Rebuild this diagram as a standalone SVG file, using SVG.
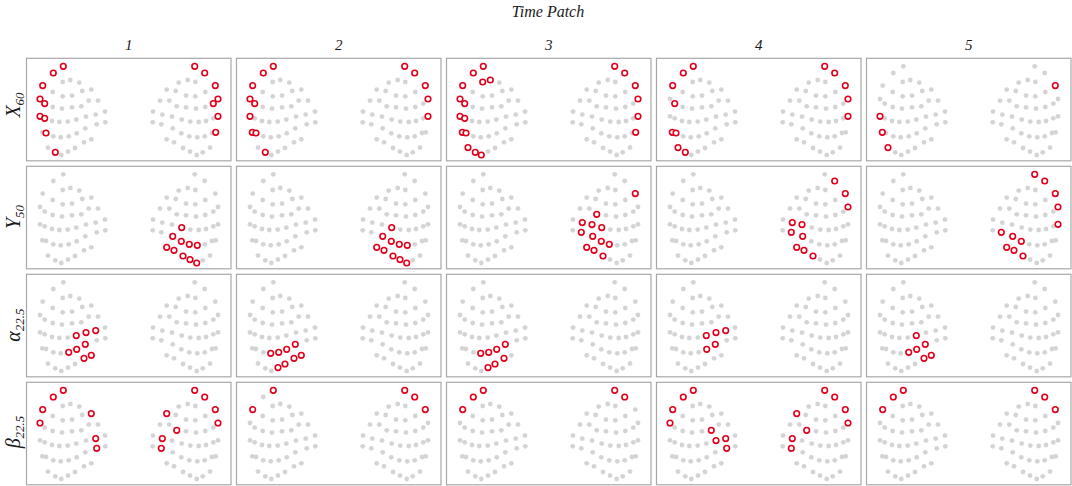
<svg xmlns="http://www.w3.org/2000/svg" xmlns:xlink="http://www.w3.org/1999/xlink" width="1072" height="486" viewBox="0 0 1072 486">
<style>
.t{font-family:"Liberation Serif","Times New Roman",serif;font-style:italic;fill:#1a1a1a}
.frame{fill:#fff;stroke:#a8a8a8;stroke-width:1.2}
.g circle{fill:#d4d4d4}
.r{fill:#fff;stroke:#e0001b;stroke-width:1.6}
</style>
<defs>
<g id="dots" class="g">
<circle cx="37.3" cy="10" r="2.4"/><circle cx="27.3" cy="16.7" r="2.4"/><circle cx="36.7" cy="25.7" r="2.4"/><circle cx="44.3" cy="23.7" r="2.4"/><circle cx="53.3" cy="26.3" r="2.4"/><circle cx="16.7" cy="29.3" r="2.4"/><circle cx="26.7" cy="35.7" r="2.4"/><circle cx="56.3" cy="34.7" r="2.4"/><circle cx="65.3" cy="33.3" r="2.4"/><circle cx="36.7" cy="40" r="2.4"/><circle cx="46" cy="39.3" r="2.4"/><circle cx="14" cy="42.7" r="2.4"/><circle cx="62.7" cy="44.3" r="2.4"/><circle cx="72" cy="44.3" r="2.4"/><circle cx="18.7" cy="47.3" r="2.4"/><circle cx="26.7" cy="50.7" r="2.4"/><circle cx="36" cy="52.3" r="2.4"/><circle cx="46" cy="51" r="2.4"/><circle cx="55.3" cy="50" r="2.4"/><circle cx="79" cy="55.3" r="2.4"/><circle cx="69.7" cy="58.3" r="2.4"/><circle cx="14" cy="60" r="2.4"/><circle cx="18.7" cy="62" r="2.4"/><circle cx="26" cy="64.7" r="2.4"/><circle cx="33.3" cy="65.7" r="2.4"/><circle cx="41.7" cy="65.3" r="2.4"/><circle cx="50.3" cy="63.3" r="2.4"/><circle cx="60" cy="60.3" r="2.4"/><circle cx="79.3" cy="66" r="2.4"/><circle cx="70.7" cy="68" r="2.4"/><circle cx="59.3" cy="72" r="2.4"/><circle cx="16.3" cy="76" r="2.4"/><circle cx="20" cy="76.7" r="2.4"/><circle cx="27.3" cy="80" r="2.4"/><circle cx="34.7" cy="81" r="2.4"/><circle cx="42.7" cy="80" r="2.4"/><circle cx="50.7" cy="77" r="2.4"/><circle cx="65.3" cy="83" r="2.4"/><circle cx="58" cy="86" r="2.4"/><circle cx="22" cy="91.3" r="2.4"/><circle cx="29.3" cy="96" r="2.4"/><circle cx="35.3" cy="98.7" r="2.4"/><circle cx="42" cy="95.3" r="2.4"/><circle cx="49" cy="91.7" r="2.4"/>
<circle cx="168.7" cy="10" r="2.4"/><circle cx="178.7" cy="16.7" r="2.4"/><circle cx="169.3" cy="25.7" r="2.4"/><circle cx="161.7" cy="23.7" r="2.4"/><circle cx="152.7" cy="26.3" r="2.4"/><circle cx="189.3" cy="29.3" r="2.4"/><circle cx="179.3" cy="35.7" r="2.4"/><circle cx="149.7" cy="34.7" r="2.4"/><circle cx="140.7" cy="33.3" r="2.4"/><circle cx="169.3" cy="40" r="2.4"/><circle cx="160" cy="39.3" r="2.4"/><circle cx="192" cy="42.7" r="2.4"/><circle cx="143.3" cy="44.3" r="2.4"/><circle cx="134" cy="44.3" r="2.4"/><circle cx="187.3" cy="47.3" r="2.4"/><circle cx="179.3" cy="50.7" r="2.4"/><circle cx="170" cy="52.3" r="2.4"/><circle cx="160" cy="51" r="2.4"/><circle cx="150.7" cy="50" r="2.4"/><circle cx="127" cy="55.3" r="2.4"/><circle cx="136.3" cy="58.3" r="2.4"/><circle cx="192" cy="60" r="2.4"/><circle cx="187.3" cy="62" r="2.4"/><circle cx="180" cy="64.7" r="2.4"/><circle cx="172.7" cy="65.7" r="2.4"/><circle cx="164.3" cy="65.3" r="2.4"/><circle cx="155.7" cy="63.3" r="2.4"/><circle cx="146" cy="60.3" r="2.4"/><circle cx="126.7" cy="66" r="2.4"/><circle cx="135.3" cy="68" r="2.4"/><circle cx="146.7" cy="72" r="2.4"/><circle cx="189.7" cy="76" r="2.4"/><circle cx="186" cy="76.7" r="2.4"/><circle cx="178.7" cy="80" r="2.4"/><circle cx="171.3" cy="81" r="2.4"/><circle cx="163.3" cy="80" r="2.4"/><circle cx="155.3" cy="77" r="2.4"/><circle cx="140.7" cy="83" r="2.4"/><circle cx="148" cy="86" r="2.4"/><circle cx="184" cy="91.3" r="2.4"/><circle cx="176.7" cy="96" r="2.4"/><circle cx="170.7" cy="98.7" r="2.4"/><circle cx="164" cy="95.3" r="2.4"/><circle cx="157" cy="91.7" r="2.4"/>
</g>
<g id="panel"><rect class="frame" x="0.5" y="2" width="204.5" height="102.5"/><use xlink:href="#dots"/></g>
</defs>
<rect width="1072" height="486" fill="#fff"/>
<g id="labels" class="t">
<text x="548" y="17" font-size="16" text-anchor="middle">Time Patch</text>
<text x="128.7" y="50" font-size="15" text-anchor="middle">1</text>
<text x="338.7" y="50" font-size="15" text-anchor="middle">2</text>
<text x="548.7" y="50" font-size="15" text-anchor="middle">3</text>
<text x="758.7" y="50" font-size="15" text-anchor="middle">4</text>
<text x="968.7" y="50" font-size="15" text-anchor="middle">5</text>
<text transform="translate(20,105) rotate(-90)" font-size="20" text-anchor="middle">X<tspan dy="4" font-size="13">60</tspan></text>
<text transform="translate(20,217) rotate(-90)" font-size="20" text-anchor="middle">Y<tspan dy="4" font-size="13">50</tspan></text>
<text transform="translate(20,325) rotate(-90)" font-size="20" text-anchor="middle">α<tspan dy="4" font-size="13">22.5</tspan></text>
<text transform="translate(20,432) rotate(-90)" font-size="20" text-anchor="middle">β<tspan dy="4" font-size="13">22.5</tspan></text>
</g>
<g id="connectors"></g>
<!-- Row 1 X60 -->
<g id="p-r1c1" transform="translate(26,56.3)"><use xlink:href="#panel"/>
<circle class="r" cx="37.3" cy="10" r="2.8"/><circle class="r" cx="27.3" cy="16.7" r="2.8"/><circle class="r" cx="16.7" cy="29.3" r="2.8"/><circle class="r" cx="14" cy="42.7" r="2.8"/><circle class="r" cx="18.7" cy="47.3" r="2.8"/><circle class="r" cx="14" cy="60" r="2.8"/><circle class="r" cx="18.7" cy="62" r="2.8"/><circle class="r" cx="20" cy="76.7" r="2.8"/><circle class="r" cx="29.3" cy="96" r="2.8"/>
<circle class="r" cx="168.7" cy="10" r="2.8"/><circle class="r" cx="178.7" cy="16.7" r="2.8"/><circle class="r" cx="189.3" cy="29.3" r="2.8"/><circle class="r" cx="192" cy="42.7" r="2.8"/><circle class="r" cx="187.3" cy="47.3" r="2.8"/><circle class="r" cx="192" cy="60" r="2.8"/><circle class="r" cx="189.7" cy="76" r="2.8"/>
</g>
<g id="p-r1c2" transform="translate(236,56.3)"><use xlink:href="#panel"/>
<circle class="r" cx="37.3" cy="10" r="2.8"/><circle class="r" cx="27.3" cy="16.7" r="2.8"/><circle class="r" cx="16.7" cy="29.3" r="2.8"/><circle class="r" cx="14" cy="42.7" r="2.8"/><circle class="r" cx="18.7" cy="47.3" r="2.8"/><circle class="r" cx="14" cy="60" r="2.8"/><circle class="r" cx="16.3" cy="76" r="2.8"/><circle class="r" cx="20" cy="76.7" r="2.8"/><circle class="r" cx="29.3" cy="96" r="2.8"/>
<circle class="r" cx="168.7" cy="10" r="2.8"/><circle class="r" cx="178.7" cy="16.7" r="2.8"/><circle class="r" cx="189.3" cy="29.3" r="2.8"/><circle class="r" cx="192" cy="42.7" r="2.8"/><circle class="r" cx="192" cy="60" r="2.8"/>
</g>
<g id="p-r1c3" transform="translate(446,56.3)"><use xlink:href="#panel"/>
<circle class="r" cx="37.3" cy="10" r="2.8"/><circle class="r" cx="27.3" cy="16.7" r="2.8"/><circle class="r" cx="36.7" cy="25.7" r="2.8"/><circle class="r" cx="44.3" cy="23.7" r="2.8"/><circle class="r" cx="16.7" cy="29.3" r="2.8"/><circle class="r" cx="14" cy="42.7" r="2.8"/><circle class="r" cx="18.7" cy="47.3" r="2.8"/><circle class="r" cx="14" cy="60" r="2.8"/><circle class="r" cx="18.7" cy="62" r="2.8"/><circle class="r" cx="16.3" cy="76" r="2.8"/><circle class="r" cx="20" cy="76.7" r="2.8"/><circle class="r" cx="22" cy="91.3" r="2.8"/><circle class="r" cx="29.3" cy="96" r="2.8"/><circle class="r" cx="35.3" cy="98.7" r="2.8"/>
<circle class="r" cx="168.7" cy="10" r="2.8"/><circle class="r" cx="178.7" cy="16.7" r="2.8"/><circle class="r" cx="189.3" cy="29.3" r="2.8"/><circle class="r" cx="192" cy="42.7" r="2.8"/><circle class="r" cx="192" cy="60" r="2.8"/><circle class="r" cx="189.7" cy="76" r="2.8"/>
</g>
<g id="p-r1c4" transform="translate(656,56.3)"><use xlink:href="#panel"/>
<circle class="r" cx="37.3" cy="10" r="2.8"/><circle class="r" cx="27.3" cy="16.7" r="2.8"/><circle class="r" cx="16.7" cy="29.3" r="2.8"/><circle class="r" cx="18.7" cy="47.3" r="2.8"/><circle class="r" cx="16.3" cy="76" r="2.8"/><circle class="r" cx="20" cy="76.7" r="2.8"/><circle class="r" cx="22" cy="91.3" r="2.8"/><circle class="r" cx="29.3" cy="96" r="2.8"/>
<circle class="r" cx="168.7" cy="10" r="2.8"/><circle class="r" cx="178.7" cy="16.7" r="2.8"/><circle class="r" cx="189.3" cy="29.3" r="2.8"/><circle class="r" cx="192" cy="42.7" r="2.8"/><circle class="r" cx="192" cy="60" r="2.8"/>
</g>
<g id="p-r1c5" transform="translate(866,56.3)"><use xlink:href="#panel"/>
<circle class="r" cx="14" cy="60" r="2.8"/><circle class="r" cx="16.3" cy="76" r="2.8"/><circle class="r" cx="22" cy="91.3" r="2.8"/>
<circle class="r" cx="189.3" cy="29.3" r="2.8"/>
</g>
<!-- Row 2 Y50 -->
<g id="p-r2c1" transform="translate(26,164.3)"><use xlink:href="#panel"/>
<circle class="r" cx="155.7" cy="63.3" r="2.8"/><circle class="r" cx="146.7" cy="72" r="2.8"/><circle class="r" cx="155.3" cy="77" r="2.8"/><circle class="r" cx="163.3" cy="80" r="2.8"/><circle class="r" cx="171.3" cy="81" r="2.8"/><circle class="r" cx="140.7" cy="83" r="2.8"/><circle class="r" cx="148" cy="86" r="2.8"/><circle class="r" cx="157" cy="91.7" r="2.8"/><circle class="r" cx="164" cy="95.3" r="2.8"/><circle class="r" cx="170.7" cy="98.7" r="2.8"/>
</g>
<g id="p-r2c2" transform="translate(236,164.3)"><use xlink:href="#panel"/>
<circle class="r" cx="155.7" cy="63.3" r="2.8"/><circle class="r" cx="146.7" cy="72" r="2.8"/><circle class="r" cx="155.3" cy="77" r="2.8"/><circle class="r" cx="163.3" cy="80" r="2.8"/><circle class="r" cx="171.3" cy="81" r="2.8"/><circle class="r" cx="140.7" cy="83" r="2.8"/><circle class="r" cx="148" cy="86" r="2.8"/><circle class="r" cx="157" cy="91.7" r="2.8"/><circle class="r" cx="164" cy="95.3" r="2.8"/><circle class="r" cx="170.7" cy="98.7" r="2.8"/>
</g>
<g id="p-r2c3" transform="translate(446,164.3)"><use xlink:href="#panel"/>
<circle class="r" cx="189.3" cy="29.3" r="2.8"/><circle class="r" cx="150.7" cy="50" r="2.8"/><circle class="r" cx="136.3" cy="58.3" r="2.8"/><circle class="r" cx="146" cy="60.3" r="2.8"/><circle class="r" cx="155.7" cy="63.3" r="2.8"/><circle class="r" cx="135.3" cy="68" r="2.8"/><circle class="r" cx="146.7" cy="72" r="2.8"/><circle class="r" cx="155.3" cy="77" r="2.8"/><circle class="r" cx="163.3" cy="80" r="2.8"/><circle class="r" cx="140.7" cy="83" r="2.8"/><circle class="r" cx="148" cy="86" r="2.8"/><circle class="r" cx="157" cy="91.7" r="2.8"/>
</g>
<g id="p-r2c4" transform="translate(656,164.3)"><use xlink:href="#panel"/>
<circle class="r" cx="178.7" cy="16.7" r="2.8"/><circle class="r" cx="189.3" cy="29.3" r="2.8"/><circle class="r" cx="192" cy="42.7" r="2.8"/><circle class="r" cx="136.3" cy="58.3" r="2.8"/><circle class="r" cx="146" cy="60.3" r="2.8"/><circle class="r" cx="135.3" cy="68" r="2.8"/><circle class="r" cx="146.7" cy="72" r="2.8"/><circle class="r" cx="140.7" cy="83" r="2.8"/><circle class="r" cx="148" cy="86" r="2.8"/><circle class="r" cx="157" cy="91.7" r="2.8"/>
</g>
<g id="p-r2c5" transform="translate(866,164.3)"><use xlink:href="#panel"/>
<circle class="r" cx="168.7" cy="10" r="2.8"/><circle class="r" cx="178.7" cy="16.7" r="2.8"/><circle class="r" cx="189.3" cy="29.3" r="2.8"/><circle class="r" cx="192" cy="42.7" r="2.8"/><circle class="r" cx="192" cy="60" r="2.8"/><circle class="r" cx="135.3" cy="68" r="2.8"/><circle class="r" cx="146.7" cy="72" r="2.8"/><circle class="r" cx="155.3" cy="77" r="2.8"/><circle class="r" cx="140.7" cy="83" r="2.8"/><circle class="r" cx="148" cy="86" r="2.8"/><circle class="r" cx="157" cy="91.7" r="2.8"/>
</g>
<!-- Row 3 alpha -->
<g id="p-r3c1" transform="translate(26,272.3)"><use xlink:href="#panel"/>
<circle class="r" cx="69.7" cy="58.3" r="2.8"/><circle class="r" cx="50.3" cy="63.3" r="2.8"/><circle class="r" cx="60" cy="60.3" r="2.8"/><circle class="r" cx="59.3" cy="72" r="2.8"/><circle class="r" cx="42.7" cy="80" r="2.8"/><circle class="r" cx="50.7" cy="77" r="2.8"/><circle class="r" cx="65.3" cy="83" r="2.8"/><circle class="r" cx="58" cy="86" r="2.8"/>
</g>
<g id="p-r3c2" transform="translate(236,272.3)"><use xlink:href="#panel"/>
<circle class="r" cx="34.7" cy="81" r="2.8"/><circle class="r" cx="42.7" cy="80" r="2.8"/><circle class="r" cx="50.7" cy="77" r="2.8"/><circle class="r" cx="59.3" cy="72" r="2.8"/><circle class="r" cx="42" cy="95.3" r="2.8"/><circle class="r" cx="49" cy="91.7" r="2.8"/><circle class="r" cx="58" cy="86" r="2.8"/><circle class="r" cx="65.3" cy="83" r="2.8"/>
</g>
<g id="p-r3c3" transform="translate(446,272.3)"><use xlink:href="#panel"/>
<circle class="r" cx="34.7" cy="81" r="2.8"/><circle class="r" cx="42.7" cy="80" r="2.8"/><circle class="r" cx="50.7" cy="77" r="2.8"/><circle class="r" cx="59.3" cy="72" r="2.8"/><circle class="r" cx="42" cy="95.3" r="2.8"/><circle class="r" cx="49" cy="91.7" r="2.8"/><circle class="r" cx="58" cy="86" r="2.8"/>
</g>
<g id="p-r3c4" transform="translate(656,272.3)"><use xlink:href="#panel"/>
<circle class="r" cx="69.7" cy="58.3" r="2.8"/><circle class="r" cx="50.3" cy="63.3" r="2.8"/><circle class="r" cx="60" cy="60.3" r="2.8"/><circle class="r" cx="59.3" cy="72" r="2.8"/><circle class="r" cx="50.7" cy="77" r="2.8"/>
</g>
<g id="p-r3c5" transform="translate(866,272.3)"><use xlink:href="#panel"/>
<circle class="r" cx="50.3" cy="63.3" r="2.8"/><circle class="r" cx="50.7" cy="77" r="2.8"/><circle class="r" cx="42.7" cy="80" r="2.8"/><circle class="r" cx="65.3" cy="83" r="2.8"/><circle class="r" cx="58" cy="86" r="2.8"/><circle class="r" cx="59.3" cy="72" r="2.8"/>
</g>
<!-- Row 4 beta -->
<g id="p-r4c1" transform="translate(26,380.3)"><use xlink:href="#panel"/>
<circle class="r" cx="37.3" cy="10" r="2.8"/><circle class="r" cx="27.3" cy="16.7" r="2.8"/><circle class="r" cx="16.7" cy="29.3" r="2.8"/><circle class="r" cx="14" cy="42.7" r="2.8"/><circle class="r" cx="65.3" cy="33.3" r="2.8"/><circle class="r" cx="69.7" cy="58.3" r="2.8"/><circle class="r" cx="70.7" cy="68" r="2.8"/>
<circle class="r" cx="168.7" cy="10" r="2.8"/><circle class="r" cx="178.7" cy="16.7" r="2.8"/><circle class="r" cx="189.3" cy="29.3" r="2.8"/><circle class="r" cx="192" cy="42.7" r="2.8"/><circle class="r" cx="140.7" cy="33.3" r="2.8"/><circle class="r" cx="150.7" cy="50" r="2.8"/><circle class="r" cx="136.3" cy="58.3" r="2.8"/><circle class="r" cx="135.3" cy="68" r="2.8"/>
</g>
<g id="p-r4c2" transform="translate(236,380.3)"><use xlink:href="#panel"/>
<circle class="r" cx="37.3" cy="10" r="2.8"/><circle class="r" cx="16.7" cy="29.3" r="2.8"/>
<circle class="r" cx="168.7" cy="10" r="2.8"/><circle class="r" cx="178.7" cy="16.7" r="2.8"/><circle class="r" cx="189.3" cy="29.3" r="2.8"/>
</g>
<g id="p-r4c3" transform="translate(446,380.3)"><use xlink:href="#panel"/>
<circle class="r" cx="37.3" cy="10" r="2.8"/><circle class="r" cx="27.3" cy="16.7" r="2.8"/><circle class="r" cx="16.7" cy="29.3" r="2.8"/>
<circle class="r" cx="168.7" cy="10" r="2.8"/><circle class="r" cx="178.7" cy="16.7" r="2.8"/>
</g>
<g id="p-r4c4" transform="translate(656,380.3)"><use xlink:href="#panel"/>
<circle class="r" cx="37.3" cy="10" r="2.8"/><circle class="r" cx="27.3" cy="16.7" r="2.8"/><circle class="r" cx="16.7" cy="29.3" r="2.8"/><circle class="r" cx="14" cy="42.7" r="2.8"/><circle class="r" cx="55.3" cy="50" r="2.8"/><circle class="r" cx="69.7" cy="58.3" r="2.8"/><circle class="r" cx="60" cy="60.3" r="2.8"/><circle class="r" cx="70.7" cy="68" r="2.8"/>
<circle class="r" cx="168.7" cy="10" r="2.8"/><circle class="r" cx="178.7" cy="16.7" r="2.8"/><circle class="r" cx="189.3" cy="29.3" r="2.8"/><circle class="r" cx="192" cy="42.7" r="2.8"/><circle class="r" cx="140.7" cy="33.3" r="2.8"/><circle class="r" cx="150.7" cy="50" r="2.8"/><circle class="r" cx="136.3" cy="58.3" r="2.8"/><circle class="r" cx="135.3" cy="68" r="2.8"/>
</g>
<g id="p-r4c5" transform="translate(866,380.3)"><use xlink:href="#panel"/>
<circle class="r" cx="37.3" cy="10" r="2.8"/><circle class="r" cx="27.3" cy="16.7" r="2.8"/><circle class="r" cx="16.7" cy="29.3" r="2.8"/>
<circle class="r" cx="168.7" cy="10" r="2.8"/><circle class="r" cx="178.7" cy="16.7" r="2.8"/><circle class="r" cx="189.3" cy="29.3" r="2.8"/>
</g>
</svg>
